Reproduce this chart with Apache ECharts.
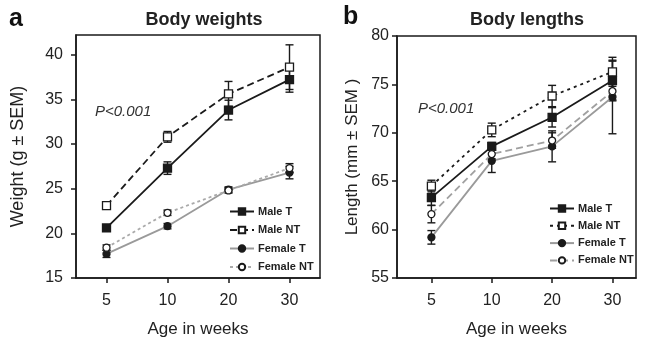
<!DOCTYPE html>
<html>
<head>
<meta charset="utf-8">
<script src="https://cdn.jsdelivr.net/npm/echarts@6/dist/echarts.min.js"></script>
<style>
  html, body { margin: 0; padding: 0; background: #fff; }
  #chart { width: 645px; height: 338px; }
</style>
</head>
<body>
<div id="chart"></div>
<script>
// x categories and tick labels
const weeks = ['5', '10', '20', '30'];
const weightTicks = [15, 20, 25, 30, 35, 40];
const lengthTicks = [55, 60, 65, 70, 75, 80];

// panel a: body weights (g) and SEM
const weightMaleT = [20.6, 27.3, 33.8, 37.2];
const weightMaleTErr = [0.3, 0.7, 1.1, 1.4];
const weightMaleNT = [23.1, 30.8, 35.6, 38.6];
const weightMaleNTErr = [0.4, 0.6, 1.4, 2.5];
const weightFemaleT = [17.7, 20.8, 24.9, 26.8];
const weightFemaleTErr = [0.4, 0.3, 0.3, 0.7];
const weightFemaleNT = [18.4, 22.3, 24.8, 27.3];
const weightFemaleNTErr = [0.3, 0.3, 0.3, 0.5];

// panel b: body lengths (mm) and SEM
const lengthMaleT = [63.3, 68.6, 71.6, 75.4];
const lengthMaleTErr = [0.8, 0.4, 1.0, 2.0];
const lengthMaleNT = [64.5, 70.3, 73.8, 76.3];
const lengthMaleNTErr = [0.6, 0.7, 1.1, 1.5];
const lengthFemaleT = [59.2, 67.1, 68.6, 73.7];
const lengthFemaleTErr = [0.7, 1.2, 1.6, 3.8];
const lengthFemaleNT = [61.6, 67.8, 69.2, 74.3];
const lengthFemaleNTErr = [0.9, 0.5, 0.8, 1.0];

const legendNames = ['Male T', 'Male NT', 'Female T', 'Female NT'];

const FONT = '"Liberation Sans", Arial, sans-serif';
const INK = '#1a1a1a';

// one line series
function lineSeries(name, panel, data, style) {
    return {
        name: name + ' (' + panel + ')',
        type: 'line',
        xAxisIndex: panel === 'a' ? 0 : 1,
        yAxisIndex: panel === 'a' ? 0 : 1,
        data: data.map((v, i) => [i, v]),
        symbol: style.symbol,
        symbolSize: style.size,
        z: 3,
        itemStyle: { color: style.fill, borderColor: INK, borderWidth: 1.3 },
        lineStyle: { color: style.line, width: 1.8, type: style.dash },
        emphasis: { disabled: true }
    };
}

// error bars drawn with a custom series
function errSeries(panel, data, err) {
    return {
        type: 'custom',
        xAxisIndex: panel === 'a' ? 0 : 1,
        yAxisIndex: panel === 'a' ? 0 : 1,
        data: data.map((v, i) => [i, v, err[i]]),
        z: 2,
        silent: true,
        renderItem: (params, api) => {
            const x = api.value(0), v = api.value(1), e = api.value(2);
            const top = api.coord([x, v + e]);
            const bot = api.coord([x, v - e]);
            const w = 4;
            const st = { stroke: INK, lineWidth: 1.4 };
            return {
                type: 'group',
                children: [
                    { type: 'line', shape: { x1: top[0], y1: top[1], x2: bot[0], y2: bot[1] }, style: st },
                    { type: 'line', shape: { x1: top[0] - w, y1: top[1], x2: top[0] + w, y2: top[1] }, style: st },
                    { type: 'line', shape: { x1: bot[0] - w, y1: bot[1], x2: bot[0] + w, y2: bot[1] }, style: st }
                ]
            };
        }
    };
}

const styleMaleT = { symbol: 'rect', size: 8, fill: INK, line: INK, dash: 'solid' };
const styleFemaleT = { symbol: 'circle', size: 7, fill: INK, line: '#9a9a9a', dash: 'solid' };

function xAxis(grid, min, max) {
    return {
        type: 'value', gridIndex: grid, min: min, max: max,
        splitLine: { show: false },
        axisLine: { onZero: false, lineStyle: { color: INK, width: 1.5 } },
        axisTick: { customValues: [0, 1, 2, 3], length: 5, lineStyle: { color: INK, width: 1.5 } },
        axisLabel: {
            customValues: [0, 1, 2, 3], formatter: (v) => weeks[v],
            fontSize: 16, color: '#222', fontFamily: FONT, margin: 15
        },
        name: 'Age in weeks', nameLocation: 'middle', nameGap: 43,
        nameTextStyle: { fontSize: 17, color: '#222', fontFamily: FONT }
    };
}

function yAxis(grid, min, max, ticks, name, gap, margin, nameSize) {
    return {
        type: 'value', gridIndex: grid, min: min, max: max,
        splitLine: { show: false },
        axisLine: { onZero: false, lineStyle: { color: INK, width: 1.5 } },
        axisTick: { customValues: ticks, length: 5, lineStyle: { color: INK, width: 1.5 } },
        axisLabel: { customValues: ticks, fontSize: 16, color: '#222', fontFamily: FONT, margin: margin },
        name: name, nameLocation: 'middle', nameGap: gap,
        nameTextStyle: { fontSize: nameSize, color: '#222', fontFamily: FONT }
    };
}

function legend(left, top, panel, gap) {
    return {
        orient: 'vertical', left: left, top: top, padding: 0,
        itemWidth: 24, itemHeight: 8, itemGap: gap,
        data: legendNames.map((n) => n + ' (' + panel + ')'),
        formatter: (n) => n.replace(/ \(.\)$/, ''),
        selectedMode: false,
        textStyle: { fontSize: 11, fontWeight: 'bold', color: '#222', fontFamily: FONT, padding: [0, 0, 0, -1] }
    };
}

const chart = echarts.init(document.getElementById('chart'), null, { renderer: 'canvas' });
chart.setOption({
    animation: false,
    backgroundColor: '#fff',
    title: [
        { text: 'Body weights', left: 199, top: 6, textAlign: 'center',
          textStyle: { fontSize: 18, fontWeight: 'bold', color: '#222', fontFamily: FONT } },
        { text: 'Body lengths', left: 522, top: 6, textAlign: 'center',
          textStyle: { fontSize: 18, fontWeight: 'bold', color: '#222', fontFamily: FONT } }
    ],
    grid: [
        { left: 76, top: 35, width: 244, height: 243, outerBoundsMode: 'none', containLabel: false,
          show: true, borderColor: INK, borderWidth: 1.5 },
        { left: 397, top: 36, width: 239, height: 242, outerBoundsMode: 'none', containLabel: false,
          show: true, borderColor: INK, borderWidth: 1.5 }
    ],
    xAxis: [xAxis(0, -0.5, 3.5), xAxis(1, -0.57, 3.39)],
    yAxis: [
        yAxis(0, 15, 42.2, weightTicks, 'Weight (g \u00b1 SEM)', 49, 13, 18),
        yAxis(1, 55, 80, lengthTicks, 'Length (mm \u00b1 SEM )', 36, 8, 17)
    ],
    legend: [legend(229, 206, 'a', 7.5), legend(549, 203, 'b', 6.3)],
    graphic: [
        { type: 'text', left: 9, top: 7, style: { text: 'a', fontSize: 25, fontWeight: 'bold', fill: '#111', fontFamily: FONT } },
        { type: 'text', left: 343, top: 5, style: { text: 'b', fontSize: 25, fontWeight: 'bold', fill: '#111', fontFamily: FONT } },
        { type: 'text', left: 95, top: 104, style: { text: 'P<0.001', fontSize: 15, fontStyle: 'italic', fill: '#333', fontFamily: FONT } },
        { type: 'text', left: 418, top: 101, style: { text: 'P<0.001', fontSize: 15, fontStyle: 'italic', fill: '#333', fontFamily: FONT } }
    ],
    series: [
        errSeries('a', weightMaleT, weightMaleTErr),
        errSeries('a', weightMaleNT, weightMaleNTErr),
        errSeries('a', weightFemaleT, weightFemaleTErr),
        errSeries('a', weightFemaleNT, weightFemaleNTErr),
        lineSeries('Male T', 'a', weightMaleT, styleMaleT),
        lineSeries('Male NT', 'a', weightMaleNT, { symbol: 'rect', size: 8, fill: '#fff', line: INK, dash: [7, 4] }),
        lineSeries('Female T', 'a', weightFemaleT, styleFemaleT),
        lineSeries('Female NT', 'a', weightFemaleNT, { symbol: 'circle', size: 7, fill: '#fff', line: '#aaaaaa', dash: [3, 3] }),

        errSeries('b', lengthMaleT, lengthMaleTErr),
        errSeries('b', lengthMaleNT, lengthMaleNTErr),
        errSeries('b', lengthFemaleT, lengthFemaleTErr),
        errSeries('b', lengthFemaleNT, lengthFemaleNTErr),
        lineSeries('Male T', 'b', lengthMaleT, styleMaleT),
        lineSeries('Male NT', 'b', lengthMaleNT, { symbol: 'rect', size: 8, fill: '#fff', line: INK, dash: [3, 4] }),
        lineSeries('Female T', 'b', lengthFemaleT, styleFemaleT),
        lineSeries('Female NT', 'b', lengthFemaleNT, { symbol: 'circle', size: 7, fill: '#fff', line: '#a0a0a0', dash: [7, 4] })
    ]
});
</script>
</body>
</html>
